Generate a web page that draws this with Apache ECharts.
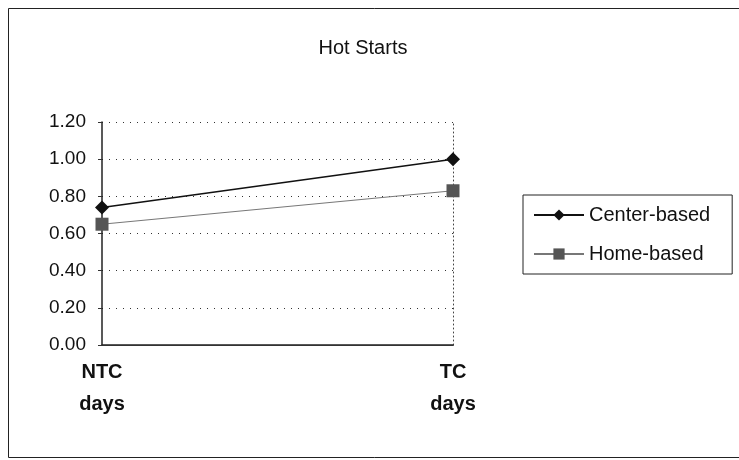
<!DOCTYPE html>
<html><head><meta charset="utf-8">
<script src="https://cdn.jsdelivr.net/npm/echarts@6/dist/echarts.min.js"></script>
<style>html,body{margin:0;padding:0;background:#fff}#c{width:739px;height:460px}</style>
</head><body><div id="c"></div>
<script>
const categories = ['NTC\ndays', 'TC\ndays'];
const centerBased = [0.74, 1.00];
const homeBased = [0.65, 0.83];

const chart = echarts.init(document.getElementById('c'));
const F = 'Liberation Sans, Arial, sans-serif';
chart.setOption({
  animation: false,
  backgroundColor: '#fff',
  graphic: [{type:'rect', shape:{x:8.5,y:8.5,width:740,height:449}, style:{fill:'none', stroke:'#222', lineWidth:1}, silent:true}],
  title: {text:'Hot Starts', left:358, top:33, textAlign:'center', textStyle:{fontFamily:F, fontSize:20, fontWeight:'normal', color:'#111'}},
  legend: {
    orient:'vertical', left:523, top:195, padding:[10,22,10,10], itemGap:19,
    itemWidth:50, itemHeight:14, borderColor:'#222', borderWidth:1,
    textStyle:{fontFamily:F, fontSize:20, color:'#111'},
    data:['Center-based','Home-based']
  },
  grid: {left:102, top:122, width:351, height:223},
  xAxis: [{
    type:'category', data:categories, boundaryGap:false,
    axisLine:{lineStyle:{color:'#222', width:1.5}},
    axisTick:{show:false},
    axisLabel:{fontFamily:F, fontSize:20, fontWeight:'bold', color:'#111', margin:11, lineHeight:32},
    splitLine:{show:false}
  },{
    type:'category', data:categories, boundaryGap:false, position:'top',
    axisLine:{lineStyle:{color:'#333', width:1}}, axisTick:{show:false}, axisLabel:{show:false}
  }],
  yAxis: [{
    type:'value', min:0, max:1.2, interval:0.2,
    axisLine:{show:true, lineStyle:{color:'#222', width:1.5}},
    axisTick:{show:true, length:4, lineStyle:{color:'#333'}},
    axisLabel:{fontFamily:F, fontSize:19, color:'#111', margin:16, formatter:v=>v.toFixed(2)},
    splitLine:{show:true, lineStyle:{type:[1,6], color:'#333', width:1}}
  },{
    type:'value', min:0, max:1.2, interval:0.2, position:'right',
    axisLine:{show:true, lineStyle:{type:[1,3], color:'#444', width:1}},
    axisTick:{show:false}, axisLabel:{show:false}, splitLine:{show:false}
  }],
  series: [{
    name:'Center-based', type:'line', data:centerBased,
    symbol:'diamond', symbolSize:14,
    lineStyle:{color:'#111', width:1.5}, itemStyle:{color:'#111'}
  },{
    name:'Home-based', type:'line', data:homeBased,
    symbol:'rect', symbolSize:13,
    lineStyle:{color:'#777', width:1}, itemStyle:{color:'#555'}
  }]
});
</script></body></html>
